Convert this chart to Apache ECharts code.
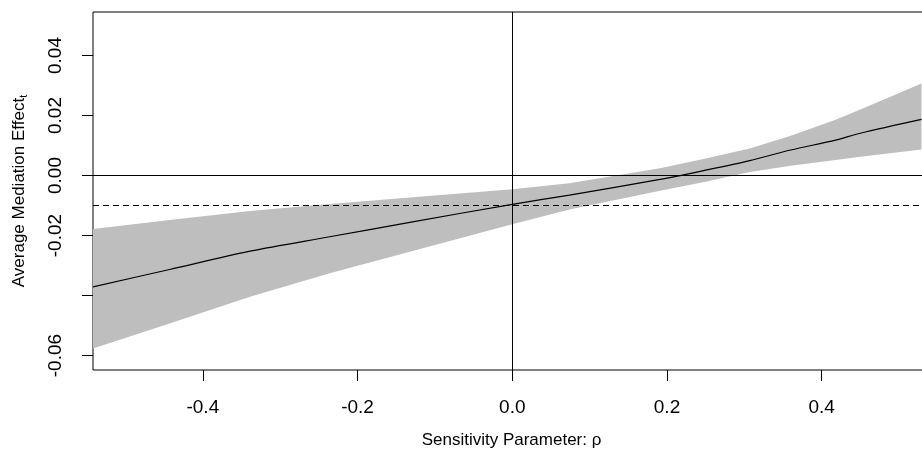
<!DOCTYPE html>
<html>
<head>
<meta charset="utf-8">
<script src="https://cdn.jsdelivr.net/npm/echarts@6/dist/echarts.min.js"></script>
<style>
  html, body { margin: 0; padding: 0; background: #fff; }
  #chart-main { width: 922px; height: 450px; }
</style>
</head>
<body>
<div id="chart-main"></div>
<script>
// sensitivity parameter rho
const rho = [-0.542, -0.443, -0.339, -0.236, -0.1325, 0, 0.074, 0.191, 0.25, 0.307, 0.36, 0.418, 0.45, 0.529];
const acme = [-0.0371, -0.0313, -0.0252, -0.0204, -0.0156, -0.0096, -0.0065, -0.0013, 0.0018, 0.0050, 0.0085, 0.0118, 0.0141, 0.0187];
const ciUpper = [-0.0178, -0.0148, -0.0118, -0.0095, -0.0073, -0.0046, -0.0026, 0.0024, 0.0057, 0.0090, 0.0133, 0.0186, 0.0220, 0.0307];
const ciLower = [-0.0576, -0.0493, -0.0404, -0.0326, -0.0254, -0.0162, -0.0113, -0.0051, -0.0021, 0.0012, 0.0033, 0.0052, 0.0063, 0.0087];
// estimate at rho = 0 (dashed line)
const acmeEstimate = -0.0095;
const xTicks = [-0.4, -0.2, 0, 0.2, 0.4];
const yTicks = [-0.06, -0.04, -0.02, 0, 0.02, 0.04];
const yLabels = [-0.06, -0.02, 0, 0.02, 0.04];

let myChart = echarts.init(document.getElementById('chart-main'));

const bandData = rho.map((r, i) => [r, ciLower[i], ciUpper[i]]);
const lineData = rho.map((r, i) => [r, acme[i]]);

const font = 'Liberation Sans, Arial, sans-serif';

// confidence band as one polygon: upper edge left->right, lower edge right->left
function renderBand(params, api) {
  if (params.dataIndex !== 0) return;
  const pts = [];
  for (let i = 0; i < bandData.length; i++) {
    pts.push(api.coord([bandData[i][0], bandData[i][2]]));
  }
  for (let i = bandData.length - 1; i >= 0; i--) {
    pts.push(api.coord([bandData[i][0], bandData[i][1]]));
  }
  return {
    type: 'polygon',
    shape: { points: pts },
    style: { fill: '#bebebe', stroke: null }
  };
}

let option = {
  animation: false,
  textStyle: { fontFamily: font, color: '#000' },
  grid: {
    left: 93,
    top: 12,
    bottom: 80,
    right: -8,
    outerBoundsMode: 'none',
    containLabel: false,
    show: true,
    borderColor: '#000',
    borderWidth: 1,
    backgroundColor: 'transparent'
  },
  xAxis: {
    type: 'value',
    min: -0.542,
    max: 0.54,
    name: 'Sensitivity Parameter: ρ',
    nameLocation: 'middle',
    nameGap: 62,
    nameTextStyle: { fontSize: 17, color: '#000', fontFamily: font },
    axisLine: { show: false, onZero: false },
    splitLine: { show: false },
    axisTick: { show: true, length: 11, lineStyle: { color: '#000' }, customValues: xTicks },
    axisLabel: {
      customValues: xTicks,
      margin: 28,
      fontSize: 19,
      color: '#000',
      fontFamily: font,
      formatter: (v) => v.toFixed(1)
    }
  },
  yAxis: {
    type: 'value',
    min: -0.0648,
    max: 0.0545,
    name: 'Average Mediation Effect{sub|t}',
    nameLocation: 'middle',
    nameRotate: 90,
    nameGap: 64,
    nameTextStyle: {
      fontSize: 17,
      color: '#000',
      fontFamily: font,
      rich: {
        sub: { fontSize: 11, padding: [8, 0, 0, 0], fontFamily: font, color: '#000' }
      }
    },
    axisLine: { show: false, onZero: false },
    splitLine: { show: false },
    axisTick: { show: true, length: 11, lineStyle: { color: '#000' }, customValues: yTicks },
    axisLabel: {
      customValues: yLabels,
      rotate: 90,
      margin: 28,
      fontSize: 19,
      color: '#000',
      fontFamily: font,
      formatter: (v) => v.toFixed(2)
    }
  },
  series: [
    {
      name: 'band',
      type: 'custom',
      data: bandData,
      encode: { x: 0, y: [1, 2] },
      renderItem: renderBand,
      clip: true,
      silent: true,
      z: 1
    },
    {
      name: 'acme',
      type: 'line',
      data: lineData,
      smooth: 0.3,
      symbol: 'none',
      lineStyle: { color: '#000', width: 1.2 },
      silent: true,
      z: 3,
      markLine: {
        silent: true,
        symbol: 'none',
        label: { show: false },
        data: [
          { yAxis: 0, lineStyle: { color: '#000', width: 1, type: 'solid' } },
          { xAxis: 0, lineStyle: { color: '#000', width: 1, type: 'solid' } },
          { yAxis: acmeEstimate, lineStyle: { color: '#000', width: 1, type: [6, 4] } }
        ]
      }
    }
  ]
};

myChart.setOption(option);
</script>
</body>
</html>
